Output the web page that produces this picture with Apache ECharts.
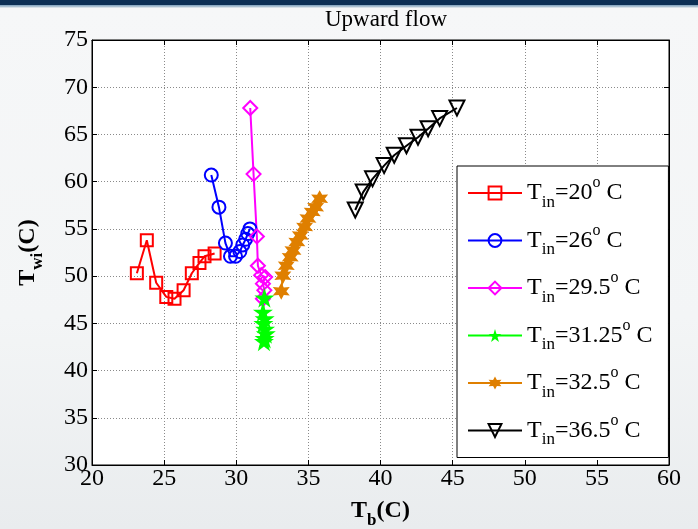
<!DOCTYPE html>
<html>
<head>
<meta charset="utf-8">
<script src="https://cdn.jsdelivr.net/npm/echarts@6/dist/echarts.min.js"></script>
<style>
html, body { margin:0; padding:0; }
body {
    width:698px; height:529px; overflow:hidden;
    background: linear-gradient(to bottom, #0d2f55 0px, #0d2f55 5px, #7d9fbc 5px, #b9cad8 7px, #f6f7f8 8px, #f3f5f6 60%, #e9ecee 100%);
}
#main { width:698px; height:529px; }
</style>
</head>
<body>
<div id="main"></div>
<script>
// values (T_b, T_wi)
var tin_labels = ['20', '26', '29.5', '31.25', '32.5', '36.5']

var red_x = [23.11, 23.8, 24.45, 25.15, 25.72, 26.35, 26.92, 27.45, 27.8, 28.5]
var red_y = [50.3, 53.8, 49.3, 47.8, 47.6, 48.5, 50.3, 51.4, 52.1, 52.4]

var blue_x = [28.27, 28.8, 29.25, 29.6, 29.95, 30.25, 30.45, 30.65, 30.8, 30.95]
var blue_y = [60.7, 57.3, 53.5, 52.1, 52.1, 52.6, 53.3, 53.9, 54.5, 55.0]

var mag_x = [30.97, 31.2, 31.43, 31.5, 31.73, 32.0, 31.85, 31.95, 31.85]
var mag_y = [67.8, 60.8, 54.2, 51.1, 50.1, 49.9, 49.2, 48.5, 47.6]

var green_x = [31.95, 31.85, 31.97, 31.88, 32.0, 32.05, 31.97, 31.92]
var green_y = [47.7, 46.2, 45.5, 45.0, 44.4, 43.9, 43.4, 43.1]

var orange_x = [33.12, 33.23, 33.47, 33.74, 33.93, 34.2, 34.44, 34.74, 34.97, 35.27, 35.5, 35.78]
var orange_y = [48.4, 50.05, 51.1, 52.0, 52.7, 53.6, 54.3, 55.2, 56.1, 56.8, 57.3, 58.2]

var black_x = [38.25, 38.8, 39.45, 40.25, 40.95, 41.8, 42.6, 43.3, 44.1, 45.3]
var black_y = [57.0, 58.9, 60.3, 61.7, 62.8, 63.8, 64.7, 65.6, 66.7, 67.8]

var x_ticks = [20, 60, 5]
var y_ticks = [30, 75, 5]

var pair = function(xs, ys){
    var out = []
    for(var i=0;i<xs.length;i++) out.push([xs[i], ys[i]])
    return out
}

var serif = '"Liberation Serif", "DejaVu Serif", serif'
var hexagram = 'path://M10,0L12.6,5.5L18.66,5L15.2,10L18.66,15L12.6,14.5L10,20L7.4,14.5L1.34,15L4.8,10L1.34,5L7.4,5.5Z'
var pentagram = 'path://M10,0L12.25,6.91L19.51,6.91L13.63,11.18L15.88,18.09L10,13.82L4.12,18.09L6.37,11.18L0.49,6.91L7.75,6.91Z'
var down_tri = 'path://M0,0L20,0L10,17.3Z'

var mk_series = function(idx, xs, ys, color, symbol, size, hollow){
    return {
        name: 'T' + idx,
        type: 'line',
        xAxisIndex: 0,
        yAxisIndex: 0,
        data: pair(xs, ys),
        symbol: symbol,
        symbolSize: size,
        showAllSymbol: true,
        lineStyle: {color: color, width: 2},
        itemStyle: {
            color: hollow ? 'rgba(0,0,0,0)' : color,
            borderColor: color,
            borderWidth: hollow ? 2 : 0
        },
        emphasis: {disabled: true},
        animation: false
    }
}

var series_list = [
    mk_series(0, red_x, red_y, '#ff0000', 'rect', 12, true),
    mk_series(1, blue_x, blue_y, '#0000ff', 'circle', 13, true),
    mk_series(2, mag_x, mag_y, '#ff00ff', 'diamond', 14, true),
    mk_series(3, green_x, green_y, '#00ff00', pentagram, 20, false),
    mk_series(4, orange_x, orange_y, '#df7f00', hexagram, 17, false),
    mk_series(5, black_x, black_y, '#000000', down_tri, 15, true)
]

var rich_leg = {
    t: {fontFamily: serif, fontSize: 24, color: '#000', lineHeight: 24, verticalAlign: 'middle'},
    s: {fontFamily: serif, fontSize: 17, color: '#000', lineHeight: 17, verticalAlign: 'bottom'},
    p: {fontFamily: serif, fontSize: 16, color: '#000', lineHeight: 22, verticalAlign: 'top'},
    h: {lineHeight: 36, fontSize: 1}
}

var axis_rich = {
    b: {fontFamily: serif, fontSize: 24, fontWeight: 'bold', color: '#000', lineHeight: 24, verticalAlign: 'middle'},
    s: {fontFamily: serif, fontSize: 17, fontWeight: 'bold', color: '#000', lineHeight: 17, verticalAlign: 'bottom'},
    h: {lineHeight: 36, fontSize: 1}
}

var grid_line = {show: true, lineStyle: {color: '#8a8a8a', type: [1, 2], width: 1}}
var tick_in = {show: true, inside: true, length: 5, lineStyle: {color: '#000'}}

var chart = echarts.init(document.getElementById('main'))
var opt = {
    backgroundColor: 'transparent',
    animation: false,
    title: {
        text: 'Upward flow',
        left: 381,
        top: 3,
        textAlign: 'center',
        textStyle: {fontFamily: serif, fontSize: 23, fontWeight: 'normal', color: '#000'}
    },
    grid: {
        left: 92, right: 29, top: 40, bottom: 64,
        outerBoundsMode: 'none',
        containLabel: false,
        show: true, backgroundColor: '#ffffff', borderColor: '#000', borderWidth: 1
    },
    legend: {
        orient: 'vertical',
        left: 457, top: 166,
        padding: [9, 16, 9, 10],
        itemGap: 11.5,
        itemWidth: 54,
        itemHeight: 16,
        backgroundColor: '#ffffff',
        borderColor: '#000',
        borderWidth: 1,
        borderRadius: 0,
        data: ['T0', 'T1', 'T2', 'T3', 'T4', 'T5'],
        formatter: function(name){
            var v = tin_labels[parseInt(name.substring(1))]
            return '{h|}{t|T}{s|in}{t|=' + v + '}{p|o}{t| C}'
        },
        textStyle: {rich: rich_leg}
    },
    xAxis: [{
        type: 'value',
        min: x_ticks[0], max: x_ticks[1], interval: x_ticks[2],
        name: '{h|}{b|T}{s|b}{b|(C)}',
        nameLocation: 'middle',
        nameGap: 28,
        nameTextStyle: {rich: axis_rich},
        axisLine: {show: true, onZero: false, lineStyle: {color: '#000', width: 1}},
        axisTick: tick_in,
        axisLabel: {fontFamily: serif, fontSize: 24, color: '#000', margin: 2},
        splitLine: grid_line
    }, {
        type: 'value', position: 'top',
        min: x_ticks[0], max: x_ticks[1], interval: x_ticks[2],
        axisLine: {show: true, lineStyle: {color: '#000'}},
        axisTick: tick_in,
        axisLabel: {show: false},
        splitLine: {show: false}
    }],
    yAxis: [{
        type: 'value',
        min: y_ticks[0], max: y_ticks[1], interval: y_ticks[2],
        name: '{h|}{b|T}{s|wi}{b|(C)}',
        nameLocation: 'middle',
        nameGap: 46,
        nameTextStyle: {rich: axis_rich},
        axisLine: {show: true, onZero: false, lineStyle: {color: '#000', width: 1}},
        axisTick: tick_in,
        axisLabel: {fontFamily: serif, fontSize: 24, color: '#000', margin: 4},
        splitLine: grid_line
    }, {
        type: 'value', position: 'right',
        min: y_ticks[0], max: y_ticks[1], interval: y_ticks[2],
        axisLine: {show: true, lineStyle: {color: '#000'}},
        axisTick: tick_in,
        axisLabel: {show: false},
        splitLine: {show: false}
    }],
    series: series_list
}
chart.setOption(opt)
</script>
</body>
</html>
